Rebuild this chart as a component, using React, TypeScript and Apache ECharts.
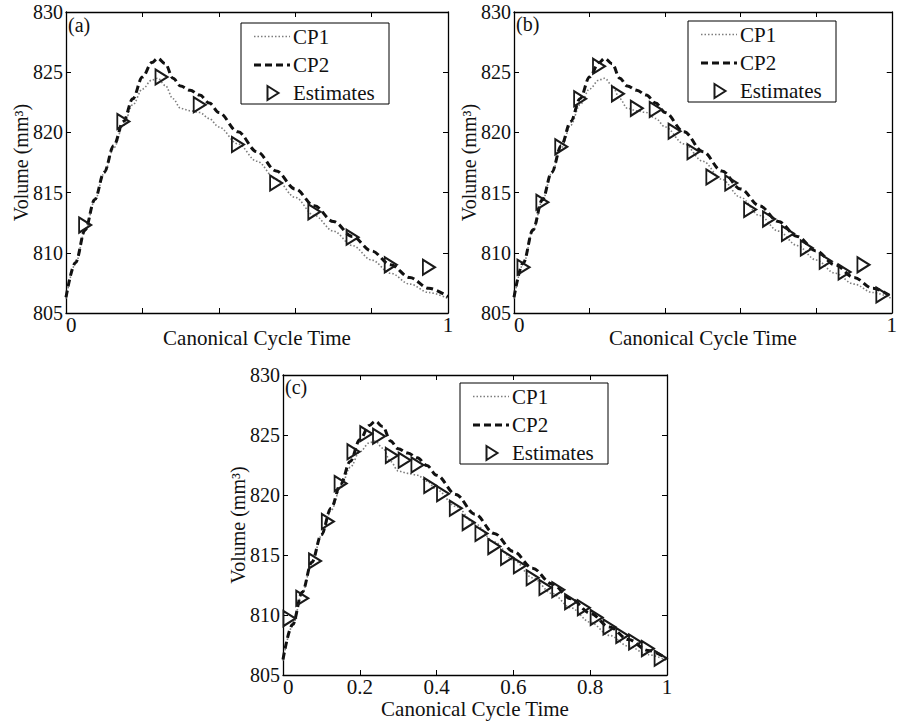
import React, { useEffect, useRef } from "react";
import * as echarts from "echarts";

// Shared model curves (x = canonical cycle time)
const cpX = [0, 0.025, 0.05, 0.075, 0.1, 0.125, 0.15, 0.175, 0.2, 0.225, 0.24, 0.26, 0.28, 0.3, 0.325, 0.35, 0.375, 0.4, 0.45, 0.5, 0.55, 0.6, 0.65, 0.7, 0.75, 0.8, 0.85, 0.9, 0.95, 1.0];
const cp1Y = [806.2, 809.1, 811.8, 814.3, 816.6, 818.7, 820.6, 822.3, 823.6, 824.35, 824.5, 823.9, 822.8, 822.0, 821.8, 821.65, 821.15, 820.45, 819.05, 817.6, 816.1, 814.6, 813.1, 811.8, 810.6, 809.4, 808.3, 807.4, 806.7, 806.2];
const cp2Y = [806.3, 809.2, 811.9, 814.4, 816.7, 818.9, 820.9, 822.8, 824.6, 825.8, 826.15, 825.7, 824.5, 823.85, 823.5, 823.1, 822.45, 821.65, 820.05, 818.4, 816.8, 815.3, 813.9, 812.6, 811.35, 810.15, 809.0, 807.95, 807.05, 806.35];

// Estimates per panel
const estAX = [0.05, 0.15, 0.25, 0.35, 0.45, 0.55, 0.65, 0.75, 0.85, 0.95];
const estAY = [812.3, 820.9, 824.6, 822.3, 819.0, 815.8, 813.4, 811.3, 809.0, 808.8];

const estBX = [0.025, 0.075, 0.125, 0.175, 0.225, 0.275, 0.325, 0.375, 0.425, 0.475, 0.525, 0.575, 0.625, 0.675, 0.725, 0.775, 0.825, 0.875, 0.925, 0.975];
const estBY = [808.8, 814.2, 818.8, 822.8, 825.5, 823.2, 822.0, 821.9, 820.1, 818.4, 816.3, 815.8, 813.6, 812.8, 811.6, 810.4, 809.3, 808.4, 809.0, 806.5];

const estCX = [0.0167, 0.05, 0.0833, 0.1167, 0.15, 0.1833, 0.2167, 0.25, 0.2833, 0.3167, 0.35, 0.3833, 0.4167, 0.45, 0.4833, 0.5167, 0.55, 0.5833, 0.6167, 0.65, 0.6833, 0.7167, 0.75, 0.7833, 0.8167, 0.85, 0.8833, 0.9167, 0.95, 0.9833];
const estCY = [809.7, 811.4, 814.5, 817.8, 820.95, 823.6, 825.1, 824.9, 823.3, 822.9, 822.5, 820.8, 820.1, 818.9, 817.7, 816.8, 815.7, 814.8, 814.1, 813.1, 812.3, 812.1, 811.1, 810.6, 809.8, 809.0, 808.3, 807.75, 807.2, 806.4];

const xTicks = { min: 0, max: 1, interval: 0.2 };
const yTicks = { min: 805, max: 830, interval: 5 };
const panelLabels = ["(a)", "(b)", "(c)"];
const seriesNames = ["CP1", "CP2", "Estimates"];
const xTitle = "Canonical Cycle Time";
const yTitle = "Volume (mm³)";

const FONT = "Liberation Serif";
const TRI = "path://M0,0L12,7.5L0,15Z";
const CP1_STYLE = { color: "#7d7d7d", width: 1.6, dash: [1.5, 2] };
const CP2_STYLE = { color: "#111", width: 3, dash: [7, 4] };
const EST_COLOR = "#1a1a1a";

const zip = (xs: number[], ys: number[]) => xs.map((x, i) => [x, ys[i]]);

export default function App() {
  const ref = useRef<HTMLDivElement>(null);
  useEffect(() => {
    if (!ref.current) return;
    const chart = echarts.init(ref.current, null, { renderer: "svg" });

    const grids = [
      { left: 66, top: 12, width: 382, height: 301 },
      { left: 514, top: 12, width: 383, height: 301 },
      { left: 283, top: 375, width: 384, height: 300 },
    ];
    const legendPos = [
      { x: 241, y: 23 },
      { x: 688, y: 21 },
      { x: 460, y: 383 },
    ];
    const labelPos = [
      { x: 68, y: 15 },
      { x: 516, y: 14 },
      { x: 285, y: 377 },
    ];
    // In (a) and (b) the x title sits over the inner tick labels, so only the end labels show
    const titleCovers = [true, true, false];
    const estimates = [zip(estAX, estAY), zip(estBX, estBY), zip(estCX, estCY)];

    const axisLine = { show: true, onZero: false, lineStyle: { color: "#000", width: 1.3 } };
    const tick = { show: true, inside: true, length: 5, lineStyle: { color: "#000", width: 1 } };
    const labelStyle = { color: "#111", fontSize: 21, fontFamily: FONT };

    const xAxis: any[] = [];
    const yAxis: any[] = [];
    const series: any[] = [];
    grids.forEach((_, i) => {
      xAxis.push({
        gridIndex: i, type: "value", ...xTicks, position: "bottom",
        axisLine, axisTick: tick, splitLine: { show: false },
        axisLabel: {
          ...labelStyle, margin: 1, alignMinLabel: "left",
          formatter: titleCovers[i]
            ? (v: number) => (v === xTicks.min || v === xTicks.max ? String(v) : "")
            : undefined,
        },
        name: xTitle, nameLocation: "middle", nameMoveOverlap: false,
        nameGap: titleCovers[i] ? 14 : 23,
        nameTextStyle: { ...labelStyle },
      });
      xAxis.push({
        gridIndex: i, type: "value", ...xTicks, position: "top",
        axisLine, axisTick: tick, splitLine: { show: false }, axisLabel: { show: false },
      });
      yAxis.push({
        gridIndex: i, type: "value", ...yTicks, position: "left",
        axisLine, axisTick: tick, splitLine: { show: false },
        axisLabel: { ...labelStyle, fontSize: 20, margin: 3 },
        name: yTitle, nameLocation: "middle", nameMoveOverlap: false, nameGap: 35,
        nameTextStyle: { ...labelStyle, fontSize: 20 },
      });
      yAxis.push({
        gridIndex: i, type: "value", ...yTicks, position: "right",
        axisLine, axisTick: tick, splitLine: { show: false }, axisLabel: { show: false },
      });
      const xi = i * 2;
      const yi = i * 2;
      series.push({
        name: "CP1", type: "line", xAxisIndex: xi, yAxisIndex: yi,
        data: zip(cpX, cp1Y), showSymbol: false, symbol: "none",
        smooth: 0.35, smoothMonotone: "x",
        lineStyle: { color: CP1_STYLE.color, width: CP1_STYLE.width, type: CP1_STYLE.dash },
        itemStyle: { color: CP1_STYLE.color },
      });
      series.push({
        name: "CP2", type: "line", xAxisIndex: xi, yAxisIndex: yi,
        data: zip(cpX, cp2Y), showSymbol: false, symbol: "none",
        smooth: 0.35, smoothMonotone: "x",
        lineStyle: { color: CP2_STYLE.color, width: CP2_STYLE.width, type: CP2_STYLE.dash },
        itemStyle: { color: CP2_STYLE.color },
      });
      series.push({
        name: "Estimates", type: "scatter", xAxisIndex: xi, yAxisIndex: yi,
        data: estimates[i], symbol: TRI, symbolSize: [12, 15],
        itemStyle: { color: "rgba(0,0,0,0)", borderColor: EST_COLOR, borderWidth: 2, opacity: 1 },
        z: 5,
      });
    });

    // Legend boxes (MATLAB-style), drawn as graphic groups
    const rowY = [13.5, 42, 70];
    const legendGroups = legendPos.map((p) => ({
      type: "group", x: p.x, y: p.y, z: 20,
      children: [
        { type: "rect", shape: { x: 0, y: 0, width: 148, height: 81 },
          style: { fill: "#fff", stroke: "#000", lineWidth: 1 } },
        { type: "line", shape: { x1: 13, y1: rowY[0], x2: 49, y2: rowY[0] },
          style: { stroke: CP1_STYLE.color, lineWidth: CP1_STYLE.width, lineDash: CP1_STYLE.dash } },
        { type: "line", shape: { x1: 13, y1: rowY[1], x2: 49, y2: rowY[1] },
          style: { stroke: CP2_STYLE.color, lineWidth: CP2_STYLE.width, lineDash: CP2_STYLE.dash } },
        { type: "polygon", shape: { points: [[26.5, rowY[2] - 7], [37.5, rowY[2]], [26.5, rowY[2] + 7]] },
          style: { fill: "none", stroke: EST_COLOR, lineWidth: 2 } },
        ...seriesNames.map((n, k) => ({
          type: "text", x: 52, y: rowY[k],
          style: { text: n, font: `21px ${FONT}`, fill: "#111", verticalAlign: "middle", align: "left" },
        })),
      ],
    }));

    const labels = panelLabels.map((t, i) => ({
      type: "text", x: labelPos[i].x, y: labelPos[i].y, z: 10,
      style: { text: t, font: `20px ${FONT}`, fill: "#111" },
    }));

    chart.setOption({
      animation: false,
      backgroundColor: "#fff",
      grid: grids,
      xAxis,
      yAxis,
      series,
      graphic: [...legendGroups, ...labels],
    });
    return () => chart.dispose();
  }, []);
  return (
    <div
      ref={ref}
      style={{ position: "fixed", left: 0, top: 0, width: 900, height: 721 }}
    />
  );
}
